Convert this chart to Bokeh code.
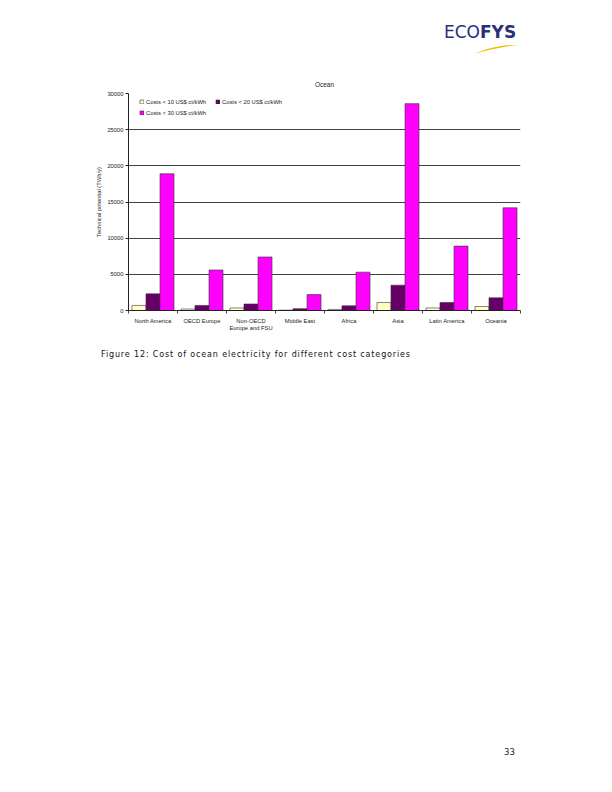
from bokeh.plotting import figure
from bokeh.models import (ColumnDataSource, Range1d, FixedTicker, Legend, LegendItem,
                          NumeralTickFormatter, Div)
from bokeh.layouts import column
from bokeh.embed import file_html
from bokeh.resources import INLINE

# ---- data ----
regions = ["North America", "OECD Europe", "Non-OECD\nEurope and FSU", "Middle East",
           "Africa", "Asia", "Latin America", "Oceania"]
cost_lt10 = [700, 200, 350, 50, 150, 1100, 350, 550]
cost_lt20 = [2300, 700, 900, 250, 650, 3500, 1100, 1750]
cost_lt30 = [18900, 5600, 7400, 2200, 5300, 28600, 8900, 14200]
series_names = ["Costs < 10 US$ ct/kWh", "Costs < 20 US$ ct/kWh", "Costs < 30 US$ ct/kWh"]
series_colors = ["#FFFFC6", "#660066", "#FF00FF"]
y_ticks = [0, 5000, 10000, 15000, 20000, 25000, 30000]
title_text = "Ocean"
y_label = "Technical potential (TWh/y)"
caption = "Figure 12: Cost of ocean electricity for different cost categories"
page_number = "33"

FONT = "Liberation Sans"
PAGE_W = 604

# ---- header with logo ----
logo_html = (
    '<div style="position:relative;width:604px;height:60px;">'
    '<div style="position:absolute;left:444px;top:22px;font-family:\'DejaVu Sans\';'
    'font-size:17px;line-height:20px;color:#2A2F7A;white-space:nowrap;">'
    'ECO<b>FYS</b></div>'
    '<svg style="position:absolute;left:0;top:0;" width="604" height="60">'
    '<path d="M474,54 Q496,44 519,45 Q498,47 474,54 Z" fill="#F0C000"/></svg>'
    '</div>'
)
header = Div(text=logo_html, width=PAGE_W, height=60, margin=0)

# ---- chart ----
p = figure(width=PAGE_W, height=280, output_backend="svg", toolbar_location=None,
           x_range=Range1d(0, len(regions)), y_range=Range1d(0, 30000),
           min_border_left=128, min_border_right=84, min_border_top=33,
           min_border_bottom=30, margin=0)
p.outline_line_color = None
p.background_fill_color = "white"
p.border_fill_color = "white"

p.title.text = title_text
p.title.align = "center"
p.title.text_font = FONT
p.title.text_font_size = "6.5px"
p.title.text_font_style = "normal"
p.title.text_color = "#222222"
p.title.standoff = 12

bar_w = 0.286
centers = [i + 0.5 for i in range(len(regions))]
renderers = []
for k, (vals, col) in enumerate(zip([cost_lt10, cost_lt20, cost_lt30], series_colors)):
    src = ColumnDataSource(dict(x=[c + (k - 1) * bar_w for c in centers], top=vals))
    r = p.vbar(x="x", top="top", width=bar_w, source=src, fill_color=col,
               line_color="#333333", line_width=0.6)
    renderers.append(r)

# x axis
p.xaxis.ticker = FixedTicker(ticks=centers, minor_ticks=list(range(len(regions) + 1)))
p.xaxis.major_label_overrides = {c: r for c, r in zip(centers, regions)}
p.xaxis.major_tick_line_color = None
p.xaxis.major_tick_out = 0
p.xaxis.major_tick_in = 0
p.xaxis.minor_tick_out = 3
p.xaxis.minor_tick_in = 0
p.xaxis.minor_tick_line_color = "#444444"
p.xaxis.axis_line_color = "#222222"
p.xaxis.axis_line_width = 1
p.xaxis.major_label_text_font = FONT
p.xaxis.major_label_text_font_size = "5.8px"
p.xaxis.major_label_text_color = "#222222"
p.xaxis.major_label_standoff = 4
p.xgrid.grid_line_color = None

# y axis
p.yaxis.ticker = FixedTicker(ticks=y_ticks)
p.yaxis.formatter = NumeralTickFormatter(format="0")
p.yaxis.minor_tick_line_color = None
p.yaxis.major_tick_out = 3
p.yaxis.major_tick_in = 0
p.yaxis.major_tick_line_color = "#222222"
p.yaxis.axis_line_color = "#222222"
p.yaxis.major_label_text_font = FONT
p.yaxis.major_label_text_font_size = "5.8px"
p.yaxis.major_label_text_color = "#222222"
p.yaxis.major_label_standoff = 2
p.yaxis.axis_label = y_label
p.yaxis.axis_label_text_font = FONT
p.yaxis.axis_label_text_font_size = "5.8px"
p.yaxis.axis_label_text_font_style = "normal"
p.yaxis.axis_label_text_color = "#222222"
p.yaxis.axis_label_standoff = 2
p.ygrid.grid_line_color = "#111111"
p.ygrid.grid_line_width = 0.8

# legend
items = [LegendItem(label=n, renderers=[r]) for n, r in zip(series_names, renderers)]
legend = Legend(items=items, ncols=2, location=(11, 192), orientation="horizontal")
legend.background_fill_color = "white"
legend.background_fill_alpha = 1
legend.border_line_color = None
legend.label_text_font = FONT
legend.label_text_font_size = "5.8px"
legend.label_text_color = "#222222"
legend.glyph_width = 5
legend.glyph_height = 5
legend.label_height = 11
legend.label_width = 69
legend.label_standoff = 2
legend.spacing = 0
legend.padding = 2
legend.margin = 0
p.add_layout(legend, "center")

# ---- footer: caption and page number ----
footer_html = (
    '<div style="position:relative;width:604px;height:444px;">'
    '<div style="position:absolute;left:101px;top:9px;font-family:\'DejaVu Sans\';'
    'font-size:8px;line-height:12px;letter-spacing:0.86px;color:#111111;white-space:nowrap;">'
    + caption + '</div>'
    '<div style="position:absolute;left:504px;top:406px;font-family:\'DejaVu Sans\';'
    'font-size:8.5px;line-height:12px;color:#222222;">' + page_number + '</div>'
    '</div>'
)
footer = Div(text=footer_html, width=PAGE_W, height=444, margin=0)

layout = column(header, p, footer, spacing=0)
open("out.html", "w").write(file_html(layout, INLINE))
